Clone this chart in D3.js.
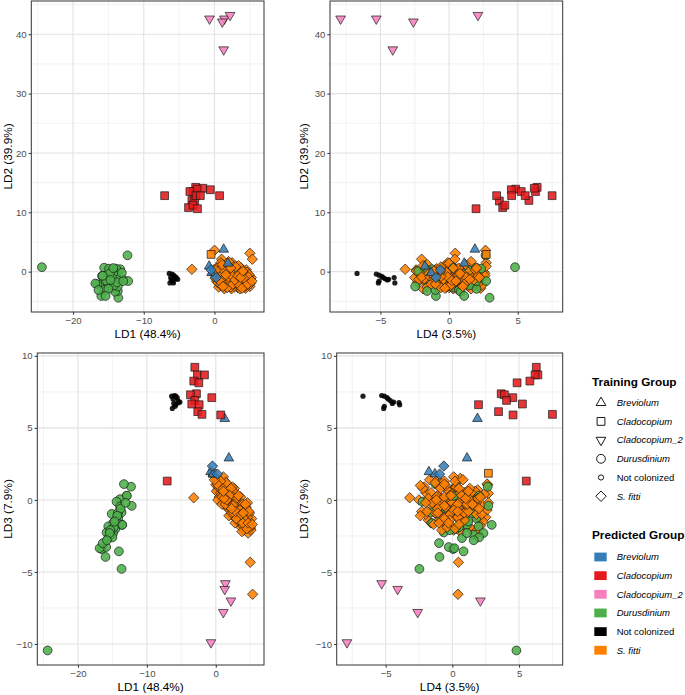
<!DOCTYPE html>
<meta charset="utf-8">
<style>
body { margin: 0; background: #fff; }
text { font-family: "Liberation Sans", Arial, Helvetica, sans-serif; }
.tick text { fill: #4d4d4d; font-size: 9.6px; }
.tick line { stroke: #333; }
.domain { display: none; }
.axis-title { font-size: 11.8px; fill: #000; }
.grid-major { stroke: #e2e2e2; stroke-width: 1.1; }
.grid-minor { stroke: #ececec; stroke-width: 0.7; }
.border { fill: none; stroke: #333; stroke-width: 1; }
.legend-title { font-size: 11.8px; font-weight: bold; }
.legend-label { font-size: 9.5px; }
</style>
<body>
<script src="https://d3js.org/d3.v7.min.js"></script>
<script>

var width = 685,
    height = 695;

// group names and legend order
var groups = ["Breviolum", "Cladocopium", "Cladocopium_2", "Durusdinium", "Not colonized", "S. fitti"];
var groupColors = ["#377eb8", "#e41a1c", "#f781bf", "#4daf4a", "#000000", "#ff7f00"];
var groupShapes = ["triangle", "square", "triangleDown", "circle", "dot", "diamond"];
var italicLabel = [true, true, true, true, false, true];

// axis labels
var axisTitles = ["LD1 (48.4%)", "LD2 (39.9%)", "LD3 (7.9%)", "LD4 (3.5%)"];

// each sample: [LD1, LD2, LD3, LD4]
// predicted Breviolum, trained Breviolum
var brevTri = [
    [1.3, 3.75, 5.64, 1.88],
    [1.9, 1.4, 2.9, 1.1],
    [-0.75, 0.9, 1.95, -1.76],
    [-0.4, -0.2, 1.8, -1.31]];

// predicted Breviolum, trained S. fitti
var brevDia = [
    [-0.48, 0.3, 2.35, -0.64],
    [0.24, -1.0, 1.79, -0.96]];

// predicted Cladocopium
var clado = [
    [-3.04, 13.5, 9.21, 6.29],
    [-2.66, 14.2, 8.68, 6.41],
    [-1.64, 14.05, 8.68, 6.2],
    [-3.19, 12.0, 8.25, 5.81],
    [-2.46, 13.9, 8.13, 4.85],
    [-2.8, 11.9, 7.37, 3.66],
    [-3.67, 10.8, 7.3, 3.9],
    [-0.58, 13.8, 7.1, 4.53],
    [-3.04, 11.2, 6.91, 4.06],
    [-3.48, 13.5, 6.66, 5.25],
    [-2.41, 10.6, 6.61, 1.96],
    [-2.61, 12.8, 6.13, 3.46],
    [-2.0, 12.8, 5.94, 7.5],
    [0.72, 12.8, 5.9, 4.55],
    [-7.05, 12.8, 1.31, 5.54]];

// predicted Cladocopium_2
var clado2 = [
    [-0.7, 42.6, -9.9, -7.9],
    [1.4, 42.6, -5.8, -5.3],
    [1.1, 42.1, -7.8, -2.6],
    [2.2, 43.2, -7.0, 2.1],
    [1.3, 37.4, -6.2, -4.1]];

// predicted Durusdinium
var durus = [
    [-24.4, 0.75, -10.45, 4.8],
    [-13.6, -4.4, -1.73, 2.95],
    [-12.3, 2.75, 0.92, 2.65],
    [-13.33, 0.4, 1.1, -1.26],
    [-12.95, -1.3, 0.28, 0.1],
    [-13.9, 0.5, 0.05, 1.34],
    [-14.4, 0.1, -0.12, -2.23],
    [-12.2, -1.58, -0.41, 2.7],
    [-13.9, -0.73, -0.46, 1.34],
    [-13.67, -3.26, -0.87, -1.6],
    [-15.1, -0.84, -0.97, -1.14],
    [-14.15, -1.97, -1.27, 1.8],
    [-14.9, 0.1, -1.61, -1.51],
    [-13.57, -1.3, -1.73, 1.09],
    [-15.6, 0.67, -1.84, 1.96],
    [-14.6, -2.7, -2.03, 0.28],
    [-15.85, -2.0, -2.26, -0.64],
    [-15.1, -1.97, -2.42, 1.58],
    [-15.6, -3.1, -2.65, 0.72],
    [-14.9, 0.5, -2.3, 2.33],
    [-16.57, -2.1, -3.41, 0.05],
    [-15.9, -0.73, -3.27, -0.27],
    [-16.0, -4.1, -3.96, -0.96],
    [-14.06, -3.37, -3.57, 0.84],
    [-13.67, -2.5, -4.79, -2.47],
    [-16.85, -2.0, -3.35, 0.15],
    [-14.5, -1.0, -1.4, -0.8],
    [-14.8, -0.3, -1.9, 0.5],
    [-15.3, -1.5, -2.1, -0.2],
    [-14.2, -2.3, -0.9, 1.5],
    [-15.0, -2.9, -2.6, 2.0],
    [-13.8, -1.8, -0.6, -0.5],
    [-15.4, -4.1, -2.3, 1.1],
    [-16.4, -3.1, -3.0, -1.0],
    [-14.3, 0.6, -1.1, 0.3],
    [-12.9, -1.6, 0.3, 2.0],
    [-15.8, -0.7, -2.8, 1.6],
    [-14.7, -1.4, -1.5, 1.2],
    [-13.1, -0.2, -0.2, 0.9]];

// predicted Not colonized
var notCol = [
    [-6.4, -0.3, 7.2, -6.7],
    [-6.0, -0.4, 7.25, -5.3],
    [-5.8, -0.6, 7.2, -5.1],
    [-5.6, -0.8, 7.1, -4.9],
    [-6.2, -1.0, 7.0, -4.8],
    [-5.5, -1.2, 6.9, -4.65],
    [-6.1, -1.4, 6.7, -4.5],
    [-5.9, -1.6, 6.5, -5.1],
    [-6.3, -1.9, 6.35, -5.15],
    [-5.2, -1.3, 6.8, -4.4],
    [-5.4, -1.0, 6.75, -4.0],
    [-5.8, -1.9, 6.6, -3.95]];

// predicted S. fitti, trained S. fitti
var fitti = [
    [-3.2, 0.4, 0.15, -3.2],
    [5.0, 3.1, -4.33, 0.45],
    [5.35, 2.1, -6.55, 0.42],
    [0.0, 3.6, 1.05, 2.65],
    [1.0, 2.1, 0.5, -2.0],
    [2.5, 1.5, 0.45, 2.7],
    [0.2, -0.5, 1.3, -1.2],
    [0.5, 0.8, 1.0, 0.3],
    [0.8, -1.2, 0.9, -2.1],
    [1.0, 0.2, 0.4, 1.5],
    [1.2, -2.0, 0.8, -0.4],
    [1.5, -0.8, 0.2, 0.9],
    [1.8, 1.2, 0.5, -1.6],
    [2.0, -1.5, -0.3, 2.2],
    [2.3, -0.2, 0.1, -0.8],
    [2.5, -2.4, -0.6, 0.5],
    [2.8, 0.5, -0.2, 1.8],
    [3.0, -1.1, -0.9, -1.3],
    [3.3, -2.7, -0.4, 0.0],
    [3.5, 0.0, -1.2, 2.5],
    [3.8, -1.8, -0.8, -2.3],
    [4.0, -0.6, -1.5, 1.1],
    [4.3, -2.2, -1.1, -0.6],
    [4.5, 0.3, -1.8, 0.7],
    [4.8, -1.4, -1.4, -1.8],
    [5.0, -2.5, -2.0, 1.4],
    [0.0, 0.4, 1.5, 0.6],
    [0.3, -1.6, 0.7, 1.9],
    [0.6, -2.6, 1.2, -0.9],
    [0.9, 1.5, 0.3, -0.1],
    [1.1, -0.3, 1.1, 2.6],
    [1.4, -2.9, -0.1, -1.9],
    [1.6, 0.9, 0.9, 0.2],
    [1.9, -1.0, 0.0, -2.5],
    [2.1, -1.9, 0.6, 1.2],
    [2.4, 1.0, -0.8, -0.3],
    [2.6, -0.9, 0.3, -1.1],
    [2.9, -2.2, -1.3, 2.0],
    [3.1, 0.2, -0.5, 0.4],
    [3.4, -1.5, -1.6, -0.7],
    [3.6, -2.9, -0.9, 1.6],
    [3.9, -0.4, -0.6, -1.5],
    [4.1, -1.2, -2.1, 0.1],
    [4.4, -2.8, -1.5, 2.3],
    [4.6, -0.1, -1.0, -2.0],
    [4.9, -1.9, -1.7, -0.2],
    [5.2, -1.0, -1.3, 0.8],
    [0.1, -1.1, 0.6, -0.3],
    [0.4, 0.0, 1.4, -1.7],
    [0.7, -0.4, 0.5, 0.9],
    [1.3, 0.6, 1.3, -0.6],
    [1.7, -2.3, 0.4, 2.4],
    [2.2, 0.0, -1.0, 1.0],
    [2.7, -1.3, 0.8, -2.2],
    [3.2, -2.0, -0.1, -0.1],
    [3.7, 0.7, -1.9, 1.3],
    [4.2, -1.6, -0.7, -1.0],
    [4.7, -0.8, -2.3, 1.9],
    [2.0, -0.6, -0.5, 0.6],
    [2.5, -1.7, 0.0, -0.9],
    [3.0, -0.3, -1.0, 0.2],
    [1.5, -1.4, 0.6, 1.7],
    [1.0, -1.8, 0.0, -1.4],
    [3.5, -1.0, -0.4, -0.4],
    [4.0, -2.0, -1.8, 2.1],
    [2.8, -2.6, -1.6, -1.6],
    [2.2, 1.4, 0.4, 0.0],
    [1.8, -0.2, -0.6, -0.8],
    [3.3, 0.4, -0.3, 1.5],
    [0.5, -1.9, 0.2, 0.4],
    [4.4, -0.4, -0.5, -0.5],
    [3.8, -2.4, -2.2, 0.6],
    [2.6, 0.3, -1.1, -2.4],
    [1.2, 0.9, -0.2, 2.7],
    [0.8, 0.1, 1.0, -2.4],
    [2.4, -2.9, 0.9, 0.3],
    [3.6, -1.3, 0.2, -1.2],
    [1.9, -1.6, -1.1, 1.0],
    [2.9, -0.7, -0.7, 2.6],
    [4.6, -1.1, -0.2, 0.0],
    [1.6, -2.5, 1.0, -0.5],
    [3.2, -1.8, -1.4, 0.9],
    [2.1, -1.2, 0.1, -1.8],
    [0.3, 0.6, 0.0, 0.7],
    [4.9, -0.5, -0.9, -1.3],
    [2.7, -0.1, 0.5, 1.4],
    [1.4, 0.3, -0.4, -1.0],
    [3.9, -0.9, -1.2, 0.3],
    [2.3, -2.1, -0.9, 0.8],
    [3.4, 1.0, -0.8, -1.9],
    [1.1, -1.0, 1.6, 0.1],
    [4.2, -2.6, -1.0, -0.2],
    [2.0, 1.7, -0.2, 1.6],
    [5.1, -2.0, -2.1, -0.8],
    [0.9, -2.2, -0.3, 1.1],
    [0.6, -0.9, 0.8, 1.3],
    [1.3, -1.5, 0.5, 0.6],
    [1.7, 0.3, 0.1, 1.9],
    [2.1, -0.4, -0.2, -1.5],
    [2.4, -1.1, -0.4, 1.7],
    [2.8, -1.9, -0.5, -0.5],
    [3.1, -0.9, -0.2, -2.0],
    [3.4, -0.5, -1.1, 0.6],
    [3.7, -2.1, -1.3, -0.9],
    [4.0, -1.4, -1.0, 1.8],
    [4.3, -0.8, -1.7, -1.4],
    [4.6, -1.8, -1.2, 0.4],
    [5.0, -1.3, -1.9, -0.4],
    [0.4, -0.2, 0.9, -1.0],
    [0.9, -0.7, 0.2, 2.1],
    [1.5, -2.1, 1.2, -1.3],
    [1.9, 0.6, -0.4, 0.3],
    [2.3, -2.6, 0.3, -0.2],
    [2.6, -0.5, -0.9, 0.9],
    [3.0, -1.6, 0.1, 1.2],
    [3.3, -1.1, -0.6, -1.1],
    [3.6, -0.1, -1.4, -0.2],
    [3.9, -1.6, -0.3, 1.0],
    [4.1, -0.2, -1.3, -0.7],
    [4.5, -2.3, -2.0, 0.2],
    [4.8, -0.9, -0.8, 1.2],
    [1.0, 0.5, 0.8, -0.9],
    [1.4, -1.1, -0.3, 0.4],
    [1.8, -2.7, 0.2, -0.6],
    [2.2, -1.6, 0.8, 0.5],
    [2.6, -2.1, -0.3, 1.1],
    [3.0, 0.8, -1.3, -0.6],
    [3.5, -2.3, -0.7, 0.1],
    [3.9, -2.8, -1.6, -0.3],
    [4.3, -1.3, -0.3, 1.5],
    [2.0, -0.9, 0.3, -0.1],
    [2.5, -0.8, -0.4, -0.6],
    [2.9, -1.4, -0.8, 0.4],
    [3.3, -0.7, 0.3, 0.7],
    [1.6, -0.5, 0.0, -1.2],
    [0.7, -1.5, 1.3, 0.2],
    [1.2, -2.5, 0.1, 1.0],
    [4.7, -2.1, -1.6, -1.0],
    [3.7, -1.0, -1.0, 2.2],
    [2.3, 0.6, -0.6, 2.0],
    [1.1, 1.2, 0.6, 1.2],
    [0.2, 0.2, 1.1, -0.6],
    [-0.2, -0.3, 1.4, 0.8],
    [5.3, -1.6, -1.7, 0.5],
    [4.0, 0.1, -0.9, -1.1]];

// predicted S. fitti, trained Cladocopium
var fittiSq = [
    [-0.48, 2.9, 1.85, 2.7]];

// axis limits
var ldDomains = [[-25.9, 7.0], [-6.8, 45.6], [-11.46, 10.2], [-8.67, 8.27]];
var ldMajor = [[-20, -10, 0], [0, 10, 20, 30, 40], [-10, -5, 0, 5, 10], [-5, 0, 5]];
var ldMinor = [[-25, -15, -5, 5], [-5, 5, 15, 25, 35, 45], [-7.5, -2.5, 2.5, 7.5], [-7.5, -2.5, 2.5, 7.5]];

// draw order: predicted group index, trained group index, samples
// (the S. fitti and Durusdinium rows are interleaved in the source data)
var series = [
    [5, 5, fitti.slice(0, 80)],
    [3, 3, durus],
    [5, 5, fitti.slice(80)],
    [5, 1, fittiSq],
    [4, 4, notCol],
    [0, 0, brevTri],
    [0, 5, brevDia],
    [1, 1, clado],
    [2, 2, clado2]];

function shapePath(shape) {
    var r;
    switch (shape) {
        case "triangle":
            r = 5.6;
            return "M0," + (-r) + "L" + (r * 0.866) + "," + (r / 2) + "L" + (-r * 0.866) + "," + (r / 2) + "Z";
        case "triangleDown":
            r = 5.6;
            return "M0," + r + "L" + (r * 0.866) + "," + (-r / 2) + "L" + (-r * 0.866) + "," + (-r / 2) + "Z";
        case "square":
            r = 3.9;
            return "M" + (-r) + "," + (-r) + "H" + r + "V" + r + "H" + (-r) + "Z";
        case "diamond":
            r = 5.2;
            return "M0," + (-r) + "L" + r + ",0L0," + r + "L" + (-r) + ",0Z";
        case "circle":
            r = 4.4;
            return "M" + r + ",0A" + r + "," + r + " 0 1,1 " + (-r) + ",0A" + r + "," + r + " 0 1,1 " + r + ",0Z";
        case "dot":
            r = 2.6;
            return "M" + r + ",0A" + r + "," + r + " 0 1,1 " + (-r) + ",0A" + r + "," + r + " 0 1,1 " + r + ",0Z";
    }
}

var svg = d3.select("body").append("svg")
    .attr("width", width)
    .attr("height", height);

// panel boxes: [left, top, right, bottom], x dimension, y dimension, y title position
var panels = [
    {box: [31.3, 1, 264, 312], xi: 0, yi: 1, ytx: 7.5},
    {box: [330, 1, 562.7, 312], xi: 3, yi: 1, ytx: 303.5},
    {box: [37.3, 353, 264, 665], xi: 0, yi: 2, ytx: 7.5},
    {box: [336.7, 353, 562.7, 665], xi: 3, yi: 2, ytx: 303.5}];

panels.forEach(function(p) {
    var b = p.box;
    var x = d3.scaleLinear().domain(ldDomains[p.xi]).range([b[0], b[2]]);
    var y = d3.scaleLinear().domain(ldDomains[p.yi]).range([b[3], b[1]]);
    var g = svg.append("g");

    var xMinor = ldMinor[p.xi].filter(function(v) { return v > x.domain()[0] && v < x.domain()[1]; });
    var yMinor = ldMinor[p.yi].filter(function(v) { return v > y.domain()[0] && v < y.domain()[1]; });

    g.selectAll(".xmin").data(xMinor).enter().append("line")
        .attr("class", "grid-minor")
        .attr("x1", function(d) { return x(d); }).attr("x2", function(d) { return x(d); })
        .attr("y1", b[1]).attr("y2", b[3]);
    g.selectAll(".ymin").data(yMinor).enter().append("line")
        .attr("class", "grid-minor")
        .attr("y1", function(d) { return y(d); }).attr("y2", function(d) { return y(d); })
        .attr("x1", b[0]).attr("x2", b[2]);
    g.selectAll(".xmaj").data(ldMajor[p.xi]).enter().append("line")
        .attr("class", "grid-major")
        .attr("x1", function(d) { return x(d); }).attr("x2", function(d) { return x(d); })
        .attr("y1", b[1]).attr("y2", b[3]);
    g.selectAll(".ymaj").data(ldMajor[p.yi]).enter().append("line")
        .attr("class", "grid-major")
        .attr("y1", function(d) { return y(d); }).attr("y2", function(d) { return y(d); })
        .attr("x1", b[0]).attr("x2", b[2]);

    // points
    series.forEach(function(s) {
        g.append("g").selectAll("path")
            .data(s[2])
            .enter()
            .append("path")
            .attr("transform", function(d) { return "translate(" + x(d[p.xi]) + "," + y(d[p.yi]) + ")"; })
            .attr("d", shapePath(groupShapes[s[1]]))
            .attr("fill", groupColors[s[0]])
            .attr("fill-opacity", 0.88)
            .attr("stroke", s[1] == 4 ? "none" : "#1a1a1a")
            .attr("stroke-width", 0.7);
    });

    g.append("rect")
        .attr("class", "border")
        .attr("x", b[0]).attr("y", b[1])
        .attr("width", b[2] - b[0]).attr("height", b[3] - b[1]);

    g.append("g")
        .attr("transform", "translate(0," + b[3] + ")")
        .call(d3.axisBottom(x).tickValues(ldMajor[p.xi]).tickSize(2.7).tickPadding(2));
    g.append("g")
        .attr("transform", "translate(" + b[0] + ",0)")
        .call(d3.axisLeft(y).tickValues(ldMajor[p.yi]).tickSize(2.7).tickPadding(2));

    g.append("text")
        .attr("class", "axis-title")
        .attr("x", (b[0] + b[2]) / 2)
        .attr("y", b[3] + 25.5)
        .attr("text-anchor", "middle")
        .text(axisTitles[p.xi]);
    g.append("text")
        .attr("class", "axis-title")
        .attr("transform", "translate(" + p.ytx + "," + ((b[1] + b[3]) / 2) + ") rotate(-90)")
        .attr("text-anchor", "middle")
        .attr("dy", "0.35em")
        .text(axisTitles[p.yi]);
});

// legends
var leg = svg.append("g");
leg.append("text").attr("class", "legend-title").attr("x", 592).attr("y", 386).text("Training Group");
leg.selectAll(".shp").data(groups).enter().append("path")
    .attr("transform", function(d, i) { return "translate(601," + (402.7 + i * 18.7) + ")"; })
    .attr("d", function(d, i) { return shapePath(groupShapes[i]); })
    .attr("fill", "none")
    .attr("stroke", "#000")
    .attr("stroke-width", 0.9);
leg.selectAll(".lab1").data(groups).enter().append("text")
    .attr("class", "legend-label")
    .attr("x", 616.7)
    .attr("y", function(d, i) { return 402.7 + i * 18.7; })
    .attr("dy", "0.35em")
    .style("font-style", function(d, i) { return italicLabel[i] ? "italic" : "normal"; })
    .text(function(d) { return d; });

leg.append("text").attr("class", "legend-title").attr("x", 592).attr("y", 539).text("Predicted Group");
leg.selectAll(".key").data(groups).enter().append("rect")
    .attr("x", 594.3)
    .attr("y", function(d, i) { return 557 + i * 18.65 - 4.4; })
    .attr("width", 12.4)
    .attr("height", 8.8)
    .attr("fill", function(d, i) { return groupColors[i]; });
leg.selectAll(".lab2").data(groups).enter().append("text")
    .attr("class", "legend-label")
    .attr("x", 616.7)
    .attr("y", function(d, i) { return 557 + i * 18.65; })
    .attr("dy", "0.35em")
    .style("font-style", function(d, i) { return italicLabel[i] ? "italic" : "normal"; })
    .text(function(d) { return d; });

</script>
</body>
